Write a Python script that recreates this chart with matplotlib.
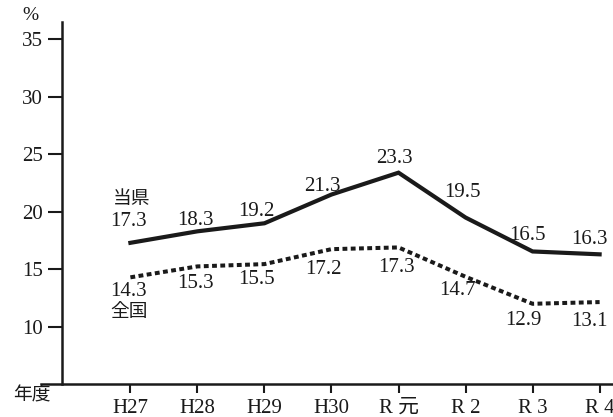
import matplotlib
matplotlib.use("Agg")
import matplotlib.pyplot as plt

plt.rcParams['font.family'] = ['Liberation Serif', 'Noto Sans CJK JP']

# data
years = ["H27", "H28", "H29", "H30", "R 元", "R 2", "R 3", "R 4"]
ken_line = [17.3, 18.3, 19.0, 21.5, 23.4, 19.5, 16.55, 16.3]      # where the line is drawn
zenkoku_line = [14.3, 15.25, 15.45, 16.75, 16.9, 14.35, 12.0, 12.15]
ken_labels = ["17.3", "18.3", "19.2", "21.3", "23.3", "19.5", "16.5", "16.3"]
zenkoku_labels = ["14.3", "15.3", "15.5", "17.2", "17.3", "14.7", "12.9", "13.1"]
yticks = [10, 15, 20, 25, 30, 35]

# label offsets from each point, in pixels
ken_off = [(-2, 21), (-2, 11), (-8, 12), (-9, 8), (-4, 14), (-3, 25), (-5, 16), (-10, 15)]
zen_off = [(-2, -14), (-2, -17), (-8, -15), (-8, -20), (-2, -20), (-8, -14), (-9, -17), (-10, -19)]

FS = 15
ink = "#1a1a1a"

fig = plt.figure(figsize=(6.13, 4.17), dpi=100)
ax = fig.add_axes([41 / 613, (417 - 384.3) / 417, 572 / 613, 362.3 / 417])

x = list(range(len(years)))
ax.plot(x, ken_line, color=ink, lw=3.0, solid_joinstyle="miter", clip_on=False)
ax.plot(x, zenkoku_line, color=ink, lw=2.9, linestyle=(0, (1.2, 0.85)),
        dash_capstyle="butt", clip_on=False)

ax.set_xlim(-1.3337, 7.1998)
ax.set_ylim(5, 36.5)

for sp in ["top", "right"]:
    ax.spines[sp].set_visible(False)
ax.spines["left"].set_position(("data", -1.0204))
for sp in ["left", "bottom"]:
    ax.spines[sp].set_linewidth(1.8)
    ax.spines[sp].set_color(ink)

ax.set_yticks(yticks)
ax.set_yticklabels([str(v) for v in yticks])
ax.set_xticks(x)
ax.set_xticklabels(years)
ax.tick_params(axis="y", direction="out", length=10, width=1.5, pad=4,
               labelsize=FS, colors=ink)
ax.tick_params(axis="x", direction="out", length=6.5, width=1.5, pad=4,
               labelsize=FS, colors=ink)

for i in x:
    ax.annotate(ken_labels[i], (i, ken_line[i]), xytext=ken_off[i],
                textcoords="offset pixels", ha="center", va="center",
                fontsize=FS, color=ink)
    ax.annotate(zenkoku_labels[i], (i, zenkoku_line[i]), xytext=zen_off[i],
                textcoords="offset pixels", ha="center", va="center",
                fontsize=FS, color=ink)

ax.annotate("当県", (0, ken_line[0]), xytext=(1, 43), textcoords="offset pixels",
            ha="center", va="center", fontsize=13.5, color=ink)
ax.annotate("全国", (0, zenkoku_line[0]), xytext=(-1, -35), textcoords="offset pixels",
            ha="center", va="center", fontsize=13.5, color=ink)

fig.text(30 / 613, 1 - 15 / 417, "%", ha="center", va="center", fontsize=14,
         color=ink)
fig.text(32 / 613, 1 - 396 / 417, "年度", ha="center", va="center", fontsize=13.5,
         color=ink)

fig.savefig("out.png", dpi=100)
